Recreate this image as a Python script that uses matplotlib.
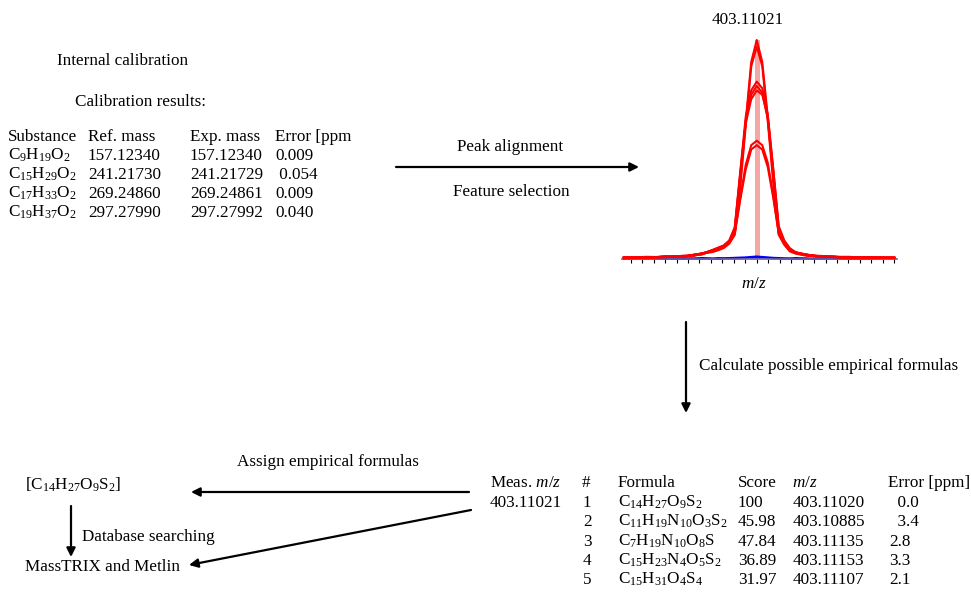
import re
import numpy as np
import matplotlib
matplotlib.use("Agg")
import matplotlib.pyplot as plt

plt.rcParams['font.family'] = ['Liberation Serif', 'DejaVu Serif']
plt.rcParams['mathtext.fontset'] = 'custom'
plt.rcParams['mathtext.rm'] = 'Liberation Serif'
plt.rcParams['mathtext.it'] = 'Liberation Serif:italic'

# calibration table
cal_header = ['Substance', 'Ref. mass', 'Exp. mass', 'Error [ppm']
cal_formulas = ['C9H19O2', 'C15H29O2', 'C17H33O2', 'C19H37O2']
cal_ref = ['157.12340', '241.21730', '269.24860', '297.27990']
cal_exp = ['157.12340', '241.21729', '269.24861', '297.27992']
cal_err = ['0.009', ' 0.054', '0.009', '0.040']

# candidate formulas table
meas_mz = '403.11021'
cand_rank = ['1', '2', '3', '4', '5']
cand_formulas = ['C14H27O9S2', 'C11H19N10O3S2', 'C7H19N10O8S', 'C15H23N4O5S2', 'C15H31O4S4']
cand_score = ['100', '45.98', '47.84', '36.89', '31.97']
cand_mz = ['403.11020', '403.10885', '403.11135', '403.11153', '403.11107']
cand_err = ['  0.0', '  3.4', '2.8', '3.3', '2.1']

# aligned peak profiles, offset from 403.11021 in mDa, intensity in % of max
offset = [-14.5, -12, -10, -8, -6.8, -6.0, -5.4, -4.8, -4.2, -3.6, -3.0, -2.4, -1.8, -1.2, -0.6, 0,
          0.6, 1.2, 1.8, 2.4, 3.0, 3.6, 4.2, 4.8, 5.4, 6.2, 7.0, 8.5, 10, 12, 15]
red_traces = [
    [0.5, 1.0, 0.8, 1.5, 1.5, 2.5, 3.0, 3.5, 4.5, 5.5, 7.5, 12, 35, 63, 90, 100,
     90, 65, 37, 12, 7, 4, 3, 2.5, 2, 1.5, 1.2, 1, 1, 0.5, 0.8],
    [0.8, 0.4, 1.2, 1.0, 2.0, 2.5, 2.8, 3.2, 4.0, 5.0, 7.0, 11, 33, 61, 88, 97,
     88, 63, 35, 11, 6.5, 3.5, 2.5, 2, 1.5, 1.2, 1, 1, 0.5, 0.8, 0.5],
    [0.8, 0.5, 1.2, 1.0, 2.0, 2.5, 3.2, 4.0, 5.0, 6.0, 8.0, 14, 40, 65, 77, 81,
     78, 66, 41, 14, 8, 4.5, 3, 2.5, 2, 1.5, 1.2, 1, 0.5, 0.8, 0.5],
    [0.5, 0.8, 1.0, 1.2, 1.8, 2.0, 3.0, 3.8, 4.8, 5.8, 7.5, 13, 38, 63, 75, 79,
     76, 64, 39, 13, 7.5, 4, 3, 2.2, 1.8, 1.2, 1.2, 0.8, 0.8, 0.5, 0.6],
    [0.6, 0.6, 0.9, 1.4, 1.6, 2.4, 3.2, 4.2, 5.2, 6.2, 8.5, 14.5, 39, 62, 73, 77,
     75, 65, 41, 15, 8.5, 5, 3.2, 2.5, 2, 1.6, 1.4, 1.1, 0.6, 0.7, 0.4],
    [0.5, 0.8, 1.0, 1.2, 2.0, 2.5, 3.2, 4.0, 5.0, 6.0, 8.0, 12, 28, 43, 52, 54,
     52, 44, 29, 12, 7.5, 4.5, 3, 2.5, 2, 1.5, 1.2, 1, 0.5, 0.8, 0.5],
    [0.7, 0.5, 1.1, 1.0, 1.8, 2.2, 3.0, 3.8, 4.8, 5.8, 7.5, 11.5, 27, 41, 50, 52,
     50, 42, 28, 11.5, 7, 4, 2.8, 2.2, 1.8, 1.4, 1.2, 0.9, 0.6, 0.6, 0.5],
]
blue_traces = [
    [0.3, 0.5, 0.2, 0.4, 0.3, 0.5, 0.4, 0.3, 0.5, 0.4, 0.5, 0.6, 0.7, 0.8, 1.0, 1.2,
     1.0, 0.8, 0.6, 0.5, 0.4, 0.3, 0.5, 0.4, 0.3, 0.2, 0.4, 0.3, 0.5, 0.2, 0.6],
    [0.0, 0.2, 0.1, 0.0, 0.2, 0.1, 0.2, 0.1, 0.0, 0.2, 0.3, 0.2, 0.4, 0.5, 0.6, 0.7,
     0.6, 0.5, 0.3, 0.2, 0.1, 0.2, 0.0, 0.1, 0.2, 0.0, 0.1, 0.2, 0.0, 0.1, 0.3],
]


def chem(f):
    return re.sub(r'(\d+)', r'$_{\1}$', f)


fs = 12.3
fig = plt.figure(figsize=(9.71, 5.92), dpi=100)
ax = fig.add_axes([0, 0, 1, 1])
ax.set_xlim(0, 971)
ax.set_ylim(592, 0)
ax.axis('off')

ax.text(57, 61, 'Internal calibration', fontsize=fs, va='center')
ax.text(75, 102, 'Calibration results:', fontsize=fs, va='center')

cal_x = [8, 88, 190, 275]
for x, h in zip(cal_x, cal_header):
    ax.text(x, 141, h, fontsize=fs, va='baseline')
cal_y = [160, 179, 198, 217]
for i in range(4):
    y = cal_y[i]
    ax.text(cal_x[0], y, chem(cal_formulas[i]), fontsize=fs, va='baseline')
    ax.text(cal_x[1], y, cal_ref[i], fontsize=fs, va='baseline')
    ax.text(cal_x[2], y, cal_exp[i], fontsize=fs, va='baseline')
    ax.text(cal_x[3], y, cal_err[i], fontsize=fs, va='baseline')

arrow = dict(arrowstyle='-|>', lw=1.6, color='black', mutation_scale=13, shrinkA=0, shrinkB=0)

ax.annotate('', xy=(639, 167), xytext=(396, 167), arrowprops=arrow)
ax.text(510, 147, 'Peak alignment', fontsize=fs, ha='center', va='center')
ax.text(511, 192, 'Feature selection', fontsize=fs, ha='center', va='center')

ax.text(748, 20, meas_mz, fontsize=fs, ha='center', va='center')
ax.text(754, 284, '$m/z$', fontsize=fs, ha='center', va='center')

ax.annotate('', xy=(686, 413), xytext=(686, 322), arrowprops=arrow)
ax.text(699, 366, 'Calculate possible empirical formulas', fontsize=fs, va='center')

# candidate table
ax.text(490, 487, 'Meas. $m/z$', fontsize=fs, va='baseline')
ax.text(490, 507, meas_mz, fontsize=fs, va='baseline')
ax.text(582, 487, '#', fontsize=fs, va='baseline')
ax.text(618, 487, 'Formula', fontsize=fs, va='baseline')
ax.text(738, 487, 'Score', fontsize=fs, va='baseline')
ax.text(792, 487, '$m/z$', fontsize=fs, va='baseline')
ax.text(888, 487, 'Error [ppm]', fontsize=fs, va='baseline')
cand_y = [507, 526, 546, 565, 584]
for i in range(5):
    y = cand_y[i]
    ax.text(583, y, cand_rank[i], fontsize=fs, va='baseline')
    ax.text(618, y, chem(cand_formulas[i]), fontsize=fs, va='baseline')
    ax.text(738, y, cand_score[i], fontsize=fs, va='baseline')
    ax.text(793, y, cand_mz[i], fontsize=fs, va='baseline')
    ax.text(889, y, cand_err[i], fontsize=fs, va='baseline')

# bottom left
ax.text(25, 490, '[' + chem('C14H27O9S2') + ']', fontsize=fs, va='baseline')
ax.annotate('', xy=(71, 557), xytext=(71, 506), arrowprops=arrow)
ax.text(82, 537, 'Database searching', fontsize=fs, va='center')
ax.text(25, 567, 'MassTRIX and Metlin', fontsize=fs, va='center')

ax.text(237, 462, 'Assign empirical formulas', fontsize=fs, va='center')
ax.annotate('', xy=(191, 492), xytext=(469, 492), arrowprops=arrow)
ax.annotate('', xy=(189, 565), xytext=(471, 510), arrowprops=arrow)

# peak inset
pax = fig.add_axes([622 / 971, 1 - 259 / 592, 275 / 971, 219 / 592])
pax.bar([0.1], [100], width=0.55, color='#f7a6a6', zorder=1)
for tr in blue_traces:
    pax.plot(offset, tr, color='#0000ff', lw=1.3, clip_on=False, zorder=2)
for tr in red_traces:
    pax.plot(offset, tr, color='#ff0000', lw=1.5, clip_on=False, zorder=3)
pax.set_xlim(-14.7, 15.3)
pax.set_ylim(0, 100)
pax.set_xticks(np.arange(-13.75, 15.1, 1.25))
pax.set_xticklabels([])
pax.set_yticks([])
pax.tick_params(axis='x', direction='out', length=3, width=0.8, color='black')
for s in ['left', 'right', 'top']:
    pax.spines[s].set_visible(False)
pax.spines['bottom'].set_color('#7060a0')
pax.spines['bottom'].set_linewidth(1.2)
pax.patch.set_alpha(0)

fig.savefig('out.png', dpi=100)
